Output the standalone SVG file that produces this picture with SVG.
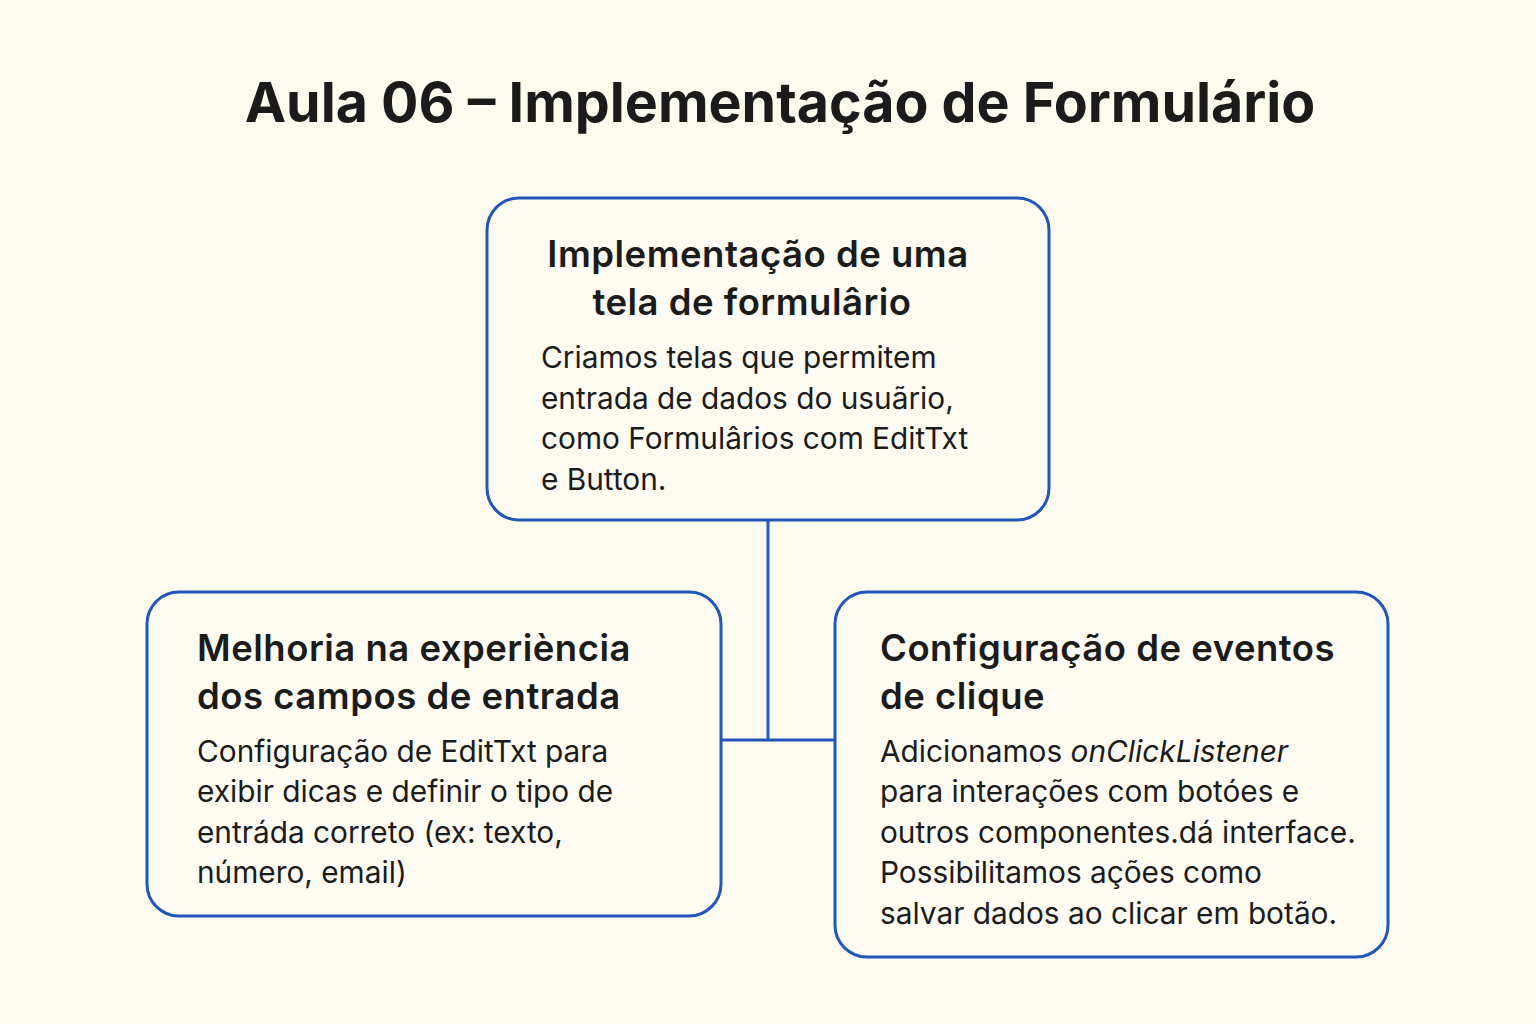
<svg xmlns="http://www.w3.org/2000/svg" width="1536" height="1024" viewBox="0 0 1536 1024">
<style>
.bg{fill:#fdfbf0}
.box{fill:#fefcf2;stroke:#2256b8;stroke-width:3}
.conn{stroke:#2256b8;stroke-width:3;fill:none}
text{font-family:Inter,"Noto Sans","Liberation Sans",sans-serif;fill:#1b1b1b}
.title{font-size:55.5px;font-weight:700}
.h{font-size:36.5px;font-weight:600;letter-spacing:0.5px}
.b{font-size:29.8px;font-weight:400}
</style>
<rect class="bg" x="0" y="0" width="1536" height="1024"/>
<text class="title" x="780" y="122" text-anchor="middle">Aula 06 – Implementação de Formulário</text>
<g id="connectors">
<path class="conn" d="M768 520 V740 M721 740 H835"/>
</g>
<g id="node-top">
<rect class="box" x="487" y="198" width="562" height="322" rx="32"/>
<text class="h" x="758" y="267" text-anchor="middle">Implementação de uma</text>
<text class="h" x="752" y="315" text-anchor="middle">tela de formulârio</text>
<text class="b" x="541" y="368">Criamos telas que permitem</text>
<text class="b" x="541" y="409">entrada de dados do usuãrio,</text>
<text class="b" x="541" y="449">como Formulârios com EditTxt</text>
<text class="b" x="541" y="490">e Button.</text>
</g>
<g id="node-left">
<rect class="box" x="147" y="592" width="574" height="324" rx="32"/>
<text class="h" x="197" y="661">Melhoria na experiència</text>
<text class="h" x="197" y="709">dos campos de entrada</text>
<text class="b" x="197" y="762">Configuração de EditTxt para</text>
<text class="b" x="197" y="802">exibir dicas e definir o tipo de</text>
<text class="b" x="197" y="843">entráda correto (ex: texto,</text>
<text class="b" x="197" y="883">número, email)</text>
</g>
<g id="node-right">
<rect class="box" x="835" y="592" width="553" height="365" rx="32"/>
<text class="h" x="880" y="661">Configuração de eventos</text>
<text class="h" x="880" y="709">de clique</text>
<text class="b" x="880" y="762">Adicionamos <tspan font-style="italic">onClickListener</tspan></text>
<text class="b" x="880" y="802">para interações com botóes e</text>
<text class="b" x="880" y="843">outros componentes.dá interface.</text>
<text class="b" x="880" y="883">Possibilitamos ações como</text>
<text class="b" x="880" y="924">salvar dados ao clicar em botão.</text>
</g>
</svg>
